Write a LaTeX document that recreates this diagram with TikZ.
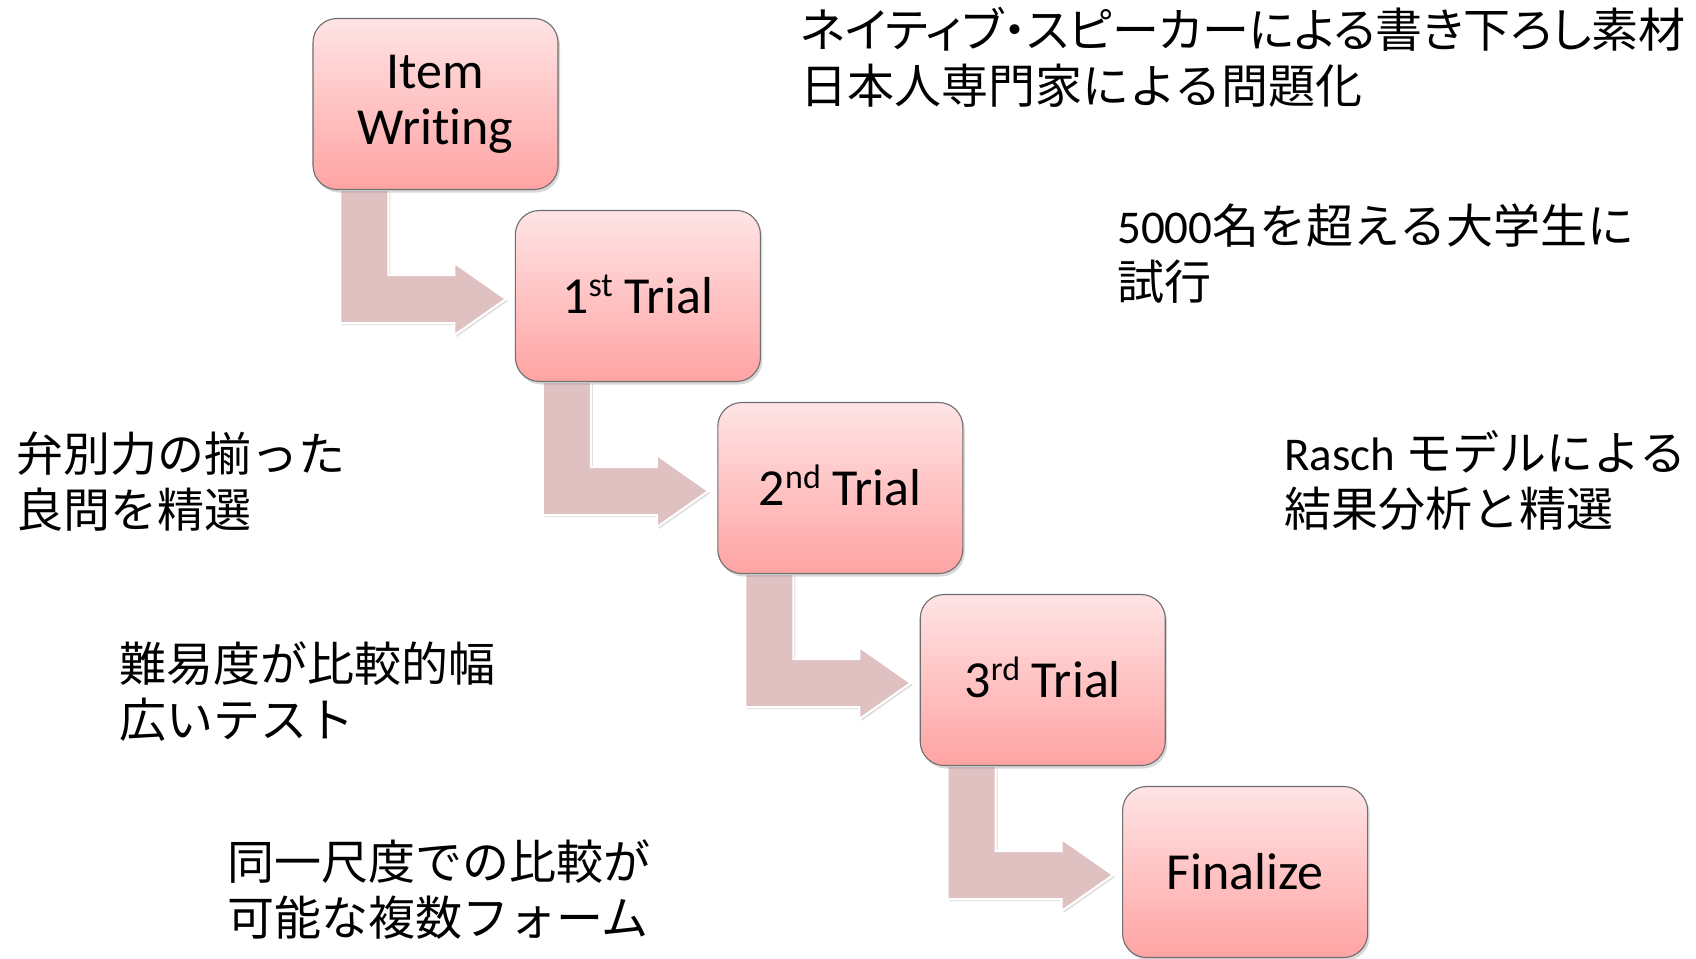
\documentclass[tikz,border=0pt]{standalone}
\usepackage{fontspec}
\setmainfont[Ligatures=CommonOff]{Carlito}
\newfontfamily\jp{Noto Sans CJK JP}
\newfontfamily\jpp[RawFeature=+palt]{Noto Sans CJK JP}
\usetikzlibrary{shadows,calc}
\definecolor{boxtop}{RGB}{255,228,229}
\definecolor{boxbot}{RGB}{255,163,163}
\definecolor{arrowfill}{RGB}{224,193,194}
\definecolor{boxline}{RGB}{110,110,110}
\pgfdeclarelayer{back}
\pgfdeclarelayer{bg}
\pgfsetlayers{back,bg,main}
\newcommand\supr[1]{\smash{\raisebox{17pt}{\fontsize{34}{34}\selectfont #1}}}
\tikzset{
  stepbox/.style={rounded corners=24pt, minimum width=245pt, minimum height=171pt,
    draw=boxline, line width=1.1pt, top color=boxtop, bottom color=boxbot,
    drop shadow={opacity=0.3, shadow xshift=2pt, shadow yshift=-3pt},
    align=center, inner sep=0pt, font=\fontsize{52}{56}\selectfont},
  bentarrow/.style={fill=arrowfill, draw=white, line width=2pt, line join=miter,
    drop shadow={opacity=0.25, shadow xshift=2pt, shadow yshift=-2pt}},
  note/.style={anchor=west, align=left, inner sep=0pt, font=\fontsize{47}{56}\selectfont}
}
\newcommand\benta[2]{%
  \path[bentarrow] ($(#1.south west)+(28,0)$) -- ($(#1.south west)+(28,133)$)
    -- ($(#1.south west)+(142,133)$) -- ($(#1.south west)+(142,145)$)
    -- ($(#2.west)+(-9,3)$)
    -- ($(#1.south west)+(142,73)$) -- ($(#1.south west)+(142,85)$)
    -- ($(#1.south west)+(76,85)$) -- ($(#1.south west)+(76,0)$) -- cycle;}
\begin{document}
\begin{tikzpicture}[x=1pt,y=-1pt]
\useasboundingbox (0,0) rectangle (1696,958);
\begin{pgfonlayer}{back}
\fill[white] (0,0) rectangle (1696,958);
\end{pgfonlayer}

\node[stepbox] (b1) at (435.5,104) {Item\\Writing};
\node[stepbox] (b2) at (637.9,296) {1\supr{st} Trial};
\node[stepbox] (b3) at (840.3,488) {2\supr{nd} Trial};
\node[stepbox] (b4) at (1042.7,680) {3\supr{rd} Trial};
\node[stepbox] (b5) at (1245.1,872) {Finalize};

\begin{pgfonlayer}{bg}
\benta{b1}{b2}
\benta{b2}{b3}
\benta{b3}{b4}
\benta{b4}{b5}
\end{pgfonlayer}

\node[note] (t1) at (800,57) {{\jpp ネイティブ・スピーカーによる書き下ろし素材}\\{\jp 日本人専門家による問題化}};
\node[note] (t2) at (1117,254) {5000{\jp 名を超える大学生に}\\{\jp 試行}};
\node[note] (t3) at (16,482) {\jp 弁別力の揃った\\\jp 良問を精選};
\node[note] (t4) at (1284,480) {Rasch {\jp モデルによる}\\{\jp 結果分析と精選}};
\node[note] (t5) at (119,692) {\jp 難易度が比較的幅\\\jp 広いテスト};
\node[note] (t6) at (227,890) {\jp 同一尺度での比較が\\\jp 可能な複数フォーム};
\end{tikzpicture}
\end{document}
